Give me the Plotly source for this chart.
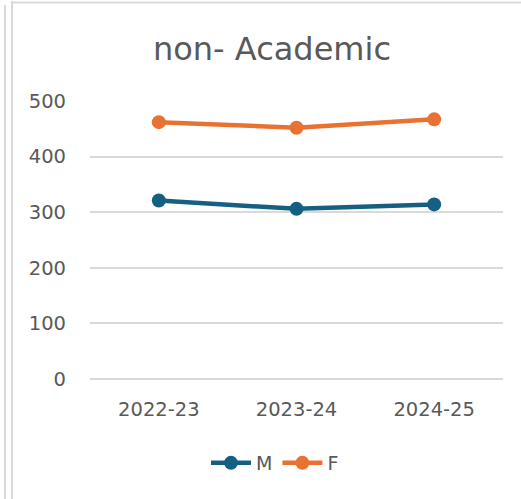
import plotly.graph_objects as go

categories = ["2022-23", "2023-24", "2024-25"]
male = [321, 306, 314]
female = [462, 452, 467]
y_ticks = [0, 100, 200, 300, 400, 500]

W, H = 521, 499
L, R, T, B = 90, 18, 101, 120
PW, PH = W - L - R, H - T - B


def px_x(px):
    return (px - L) / PW


def px_y(py):
    return (H - B - py) / PH


fig = go.Figure()
fig.add_trace(go.Scatter(
    x=categories, y=male, name="M", mode="lines+markers",
    line=dict(color="#156082", width=4.5),
    marker=dict(color="#156082", size=14),
))
fig.add_trace(go.Scatter(
    x=categories, y=female, name="F", mode="lines+markers",
    line=dict(color="#E97132", width=4.5),
    marker=dict(color="#E97132", size=14),
))

border = dict(color="#d9d9d9", width=2)
shapes = [
    dict(type="line", xref="paper", yref="paper", x0=px_x(5), x1=px_x(5), y0=px_y(5), y1=px_y(H + 2), line=border),
    dict(type="line", xref="paper", yref="paper", x0=px_x(12), x1=px_x(12), y0=px_y(1), y1=px_y(H + 2), line=border),
    dict(type="line", xref="paper", yref="paper", x0=px_x(11), x1=px_x(W + 2), y0=px_y(2.5), y1=px_y(2.5), line=border),
]

fig.update_layout(
    width=W, height=H,
    margin=dict(l=L, r=R, t=T, b=B),
    paper_bgcolor="white", plot_bgcolor="white",
    font=dict(family="DejaVu Sans", color="#595959"),
    title=dict(text="non- Academic", x=272 / W, xref="container", xanchor="center",
               y=1 - 49 / H, yref="container", yanchor="middle",
               font=dict(size=32, color="#595959")),
    xaxis=dict(type="category", range=[-0.5, 2.5], showgrid=False, showline=False,
               zeroline=False, ticks="", tickfont=dict(size=19.5, color="#595959"),
               ticklabelstandoff=16),
    yaxis=dict(range=[0, 500], tickvals=y_ticks, showgrid=True, gridcolor="#d9d9d9",
               gridwidth=1.5, zeroline=True, zerolinecolor="#d9d9d9", zerolinewidth=1.5,
               showline=False, ticks="", tickfont=dict(size=19.5, color="#595959"),
               ticklabelstandoff=23),
    showlegend=True,
    legend=dict(orientation="h", x=px_x(275), xanchor="center", y=px_y(463), yanchor="middle",
                font=dict(size=19, color="#595959"), itemwidth=40),
    shapes=shapes,
)

fig.write_html(
    "out.html",
    config={"displayModeBar": False},
    post_script="document.body.style.margin='0';document.body.style.overflow='hidden';",
)
